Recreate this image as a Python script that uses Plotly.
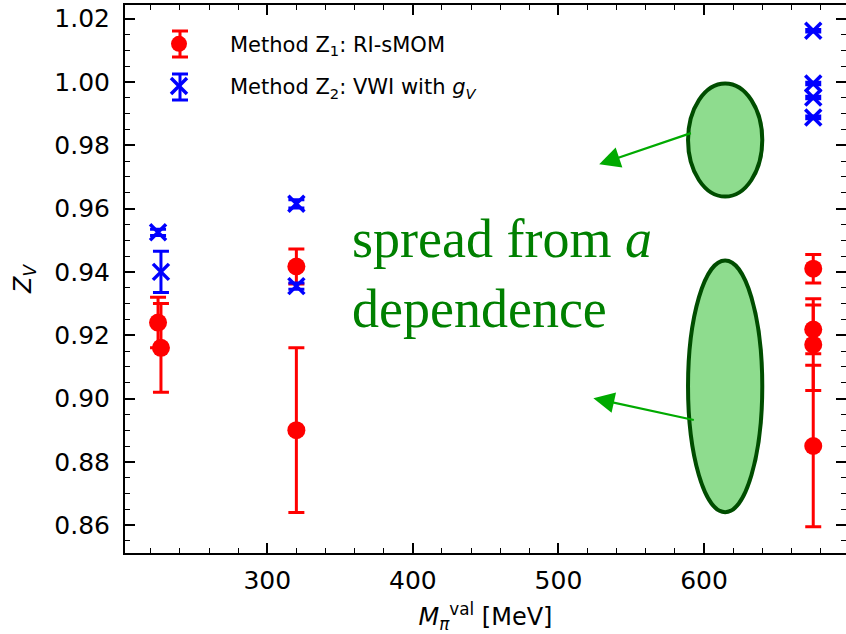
import plotly.graph_objects as go

# ---- data ----
mpi_z1 = [225, 227, 320, 320, 675, 675, 675, 675]
z1 = [0.924, 0.916, 0.9417, 0.890, 0.941, 0.9218, 0.917, 0.885]
z1_err = [0.008, 0.014, 0.0055, 0.026, 0.0045, 0.0077, 0.0145, 0.0255]

mpi_z2 = [225, 227, 320, 320, 675, 675, 675, 675]
z2 = [0.9525, 0.9400, 0.9615, 0.9355, 1.0162, 0.9995, 0.9951, 0.9888]
z2_err = [0.0010, 0.0065, 0.0013, 0.0010, 0.0004, 0.0004, 0.0004, 0.0004]

legend_names = ["Method Z<sub>1</sub>: RI-sMOM",
                "Method Z<sub>2</sub>: VWI with <i>g</i><sub><i>V</i></sub>"]
legend_colors = ["#ff0000", "#0000ff"]

# ellipses (data coords): x0, x1, y0, y1
ellipse_small = [589, 640, 0.9638, 0.9995]
ellipse_big = [589, 640, 0.8641, 0.9436]
# arrows: tail (x, y) -> tip (x, y)
arrow_small = [592, 0.9840, 528, 0.9740]
arrow_big = [594, 0.8931, 524, 0.9001]

annot_text = "spread from <i>a</i><br>dependence"

x_range = [202.3, 697.5]
y_range = [0.8512, 1.0243]

# plot-area geometry in pixels (for paper-coordinate conversions)
L, T, W, H = 125, 5, 721, 548


def px(xp):
    return (xp - L) / W


def py(yp):
    return 1 - (yp - T) / H


fig = go.Figure()

fig.add_trace(go.Scatter(
    x=mpi_z1, y=z1, mode="markers", name=legend_names[0], legendgroup="g1",
    marker=dict(color=legend_colors[0], size=18, symbol="circle"),
    error_y=dict(type="data", array=z1_err, color=legend_colors[0], thickness=3, width=8),
))
fig.add_trace(go.Scatter(
    x=mpi_z2, y=z2, mode="markers", name=legend_names[1], legendgroup="g2",
    marker=dict(color=legend_colors[1], size=16, symbol="x-thin",
                line=dict(color=legend_colors[1], width=3.5)),
    error_y=dict(type="data", array=z2_err, color=legend_colors[1], thickness=3, width=8),
))

# ellipses
for e in (ellipse_small, ellipse_big):
    fig.add_shape(type="circle", xref="x", yref="y",
                  x0=e[0], x1=e[1], y0=e[2], y1=e[3],
                  fillcolor="#8edc8e", line=dict(color="#004d00", width=4),
                  layer="above")

# arrows
for a in (arrow_small, arrow_big):
    fig.add_annotation(x=a[2], y=a[3], ax=a[0], ay=a[1], xref="x", yref="y",
                       axref="x", ayref="y", text="", showarrow=True,
                       arrowhead=2, arrowsize=1.9, arrowwidth=2.2,
                       arrowcolor="#00aa00")

# error-bar glyphs behind the legend symbols
for cy, col in ((44, legend_colors[0]), (87, legend_colors[1])):
    fig.add_shape(type="line", xref="paper", yref="paper",
                  x0=px(180), x1=px(180), y0=py(cy - 13), y1=py(cy + 13),
                  line=dict(color=col, width=3))
    for cap in (cy - 13, cy + 13):
        fig.add_shape(type="line", xref="paper", yref="paper",
                      x0=px(172), x1=px(188), y0=py(cap), y1=py(cap),
                      line=dict(color=col, width=3))

fig.add_annotation(
    text=annot_text, showarrow=False,
    x=px(350), y=py(274), xref="paper", yref="paper",
    xanchor="left", yanchor="middle", align="left",
    font=dict(family="Liberation Serif", size=54, color="#008000"))

axis_common = dict(
    showline=True, linecolor="black", linewidth=2, mirror="allticks",
    ticks="inside", ticklen=10, tickwidth=1.6, tickcolor="black",
    showgrid=False, zeroline=False,
    tickfont=dict(family="DejaVu Sans", size=25, color="black"),
)

fig.update_xaxes(range=x_range, tickmode="array", tickvals=[300, 400, 500, 600],
                 minor=dict(ticks="inside", ticklen=5, tickwidth=1.3, dtick=20,
                            tick0=200, tickcolor="black"),
                 ticklabelstandoff=4,
                 title=dict(text="<i>M</i><sub><i>π</i></sub><sup>val</sup> [MeV]",
                            font=dict(family="DejaVu Sans", size=24, color="black"),
                            standoff=14),
                 **axis_common)
fig.update_yaxes(range=y_range, tickmode="array",
                 tickvals=[0.86, 0.88, 0.90, 0.92, 0.94, 0.96, 0.98, 1.00, 1.02],
                 ticktext=["0.86", "0.88", "0.90", "0.92", "0.94", "0.96", "0.98", "1.00", "1.02"],
                 minor=dict(ticks="inside", ticklen=5, tickwidth=1.3, dtick=0.005,
                            tick0=0.85, tickcolor="black"),
                 ticklabelstandoff=8,
                 title=dict(text="<i>Z</i><sub><i>V</i></sub>",
                            font=dict(family="DejaVu Sans", size=24, color="black"),
                            standoff=16),
                 **axis_common)

fig.update_layout(
    width=846, height=634,
    margin=dict(l=125, r=0, t=5, b=81, autoexpand=False),
    plot_bgcolor="white", paper_bgcolor="white",
    showlegend=True,
    legend=dict(x=px(128), y=0.966, xanchor="left", yanchor="top",
                bgcolor="rgba(0,0,0,0)", borderwidth=0,
                font=dict(family="DejaVu Sans", size=21, color="black"),
                itemsizing="trace", itemwidth=92,
                traceorder="grouped", tracegroupgap=12),
)

fig.write_html("out.html", config={"displayModeBar": False},
               post_script="document.body.style.margin='0';")
